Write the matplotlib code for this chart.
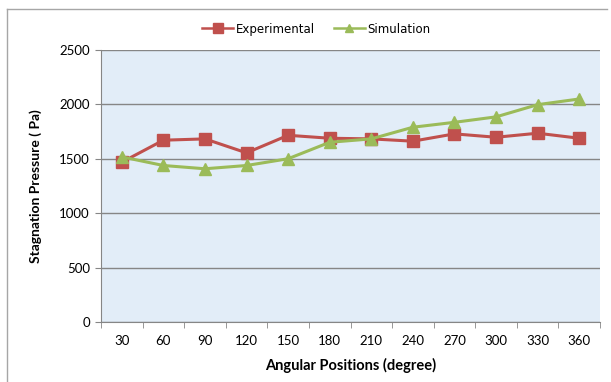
import matplotlib.pyplot as plt
from matplotlib.lines import Line2D

angles = ['30', '60', '90', '120', '150', '180', '210', '240', '270', '300', '330', '360']
experimental = [1468, 1670, 1682, 1554, 1715, 1688, 1682, 1661, 1728, 1697, 1734, 1688]
simulation = [1517, 1438, 1408, 1438, 1500, 1651, 1682, 1789, 1834, 1884, 1996, 2048]
yticks = [0, 500, 1000, 1500, 2000, 2500]

red = '#c0504d'
green = '#9bbb59'
grid_col = '#868686'

plt.rcParams['font.family'] = ['Lato', 'DejaVu Sans']

fig = plt.figure(figsize=(6.11, 3.82), dpi=100)
ax = fig.add_axes([0.1653, 0.1563, 0.8167, 0.7136])
ax.set_facecolor('#e2edf8')

x = list(range(len(angles)))
ax.plot(x, experimental, color=red, lw=2.2, marker='s', ms=9, zorder=3)
ax.plot(x, simulation, color=green, lw=2.2, marker='^', ms=8, zorder=3)

ax.set_xlim(-0.5, len(angles) - 0.5)
ax.set_ylim(0, 2500)
ax.set_yticks(yticks)
ax.set_xticks(x)
ax.set_xticklabels(angles)
ax.tick_params(axis='x', length=0, pad=9, labelsize=9.5)
ax.tick_params(axis='y', length=4, color=grid_col, pad=4, labelsize=9.5)
# category boundary ticks on the x axis
ax.set_xticks([i - 0.5 for i in range(len(angles) + 1)], minor=True)
ax.tick_params(axis='x', which='minor', length=4, color=grid_col)

ax.grid(axis='y', color=grid_col, lw=1)
ax.set_axisbelow(True)
for s in ['top', 'right']:
    ax.spines[s].set_visible(False)
for s in ['left', 'bottom']:
    ax.spines[s].set_color(grid_col)

ax.set_xlabel('Angular Positions (degree)', fontweight='bold', fontsize=10.5, labelpad=8)
ax.set_ylabel('Stagnation Pressure ( Pa)', fontweight='bold', fontsize=10, labelpad=12)

# legend with smaller markers than the plotted lines
handles = [Line2D([], [], color=red, lw=1.8, marker='s', ms=6.5),
           Line2D([], [], color=green, lw=1.8, marker='^', ms=6)]
fig.legend(handles, ['Experimental', 'Simulation'], loc='center',
           bbox_to_anchor=(0.518, 0.924), ncol=2, frameon=False,
           prop={'family': 'DejaVu Sans', 'size': 8.5},
           handlelength=2.6, columnspacing=1.6, handletextpad=0.25)

# chart border
w, h = 611, 382
fig.add_artist(Line2D([7 / w, 7 / w], [0, 1 - 9 / h], color='#a6a6a6', lw=1))
fig.add_artist(Line2D([7 / w, 607 / w], [1 - 9 / h, 1 - 9 / h], color='#a6a6a6', lw=1))

fig.savefig('out.png', dpi=100)
